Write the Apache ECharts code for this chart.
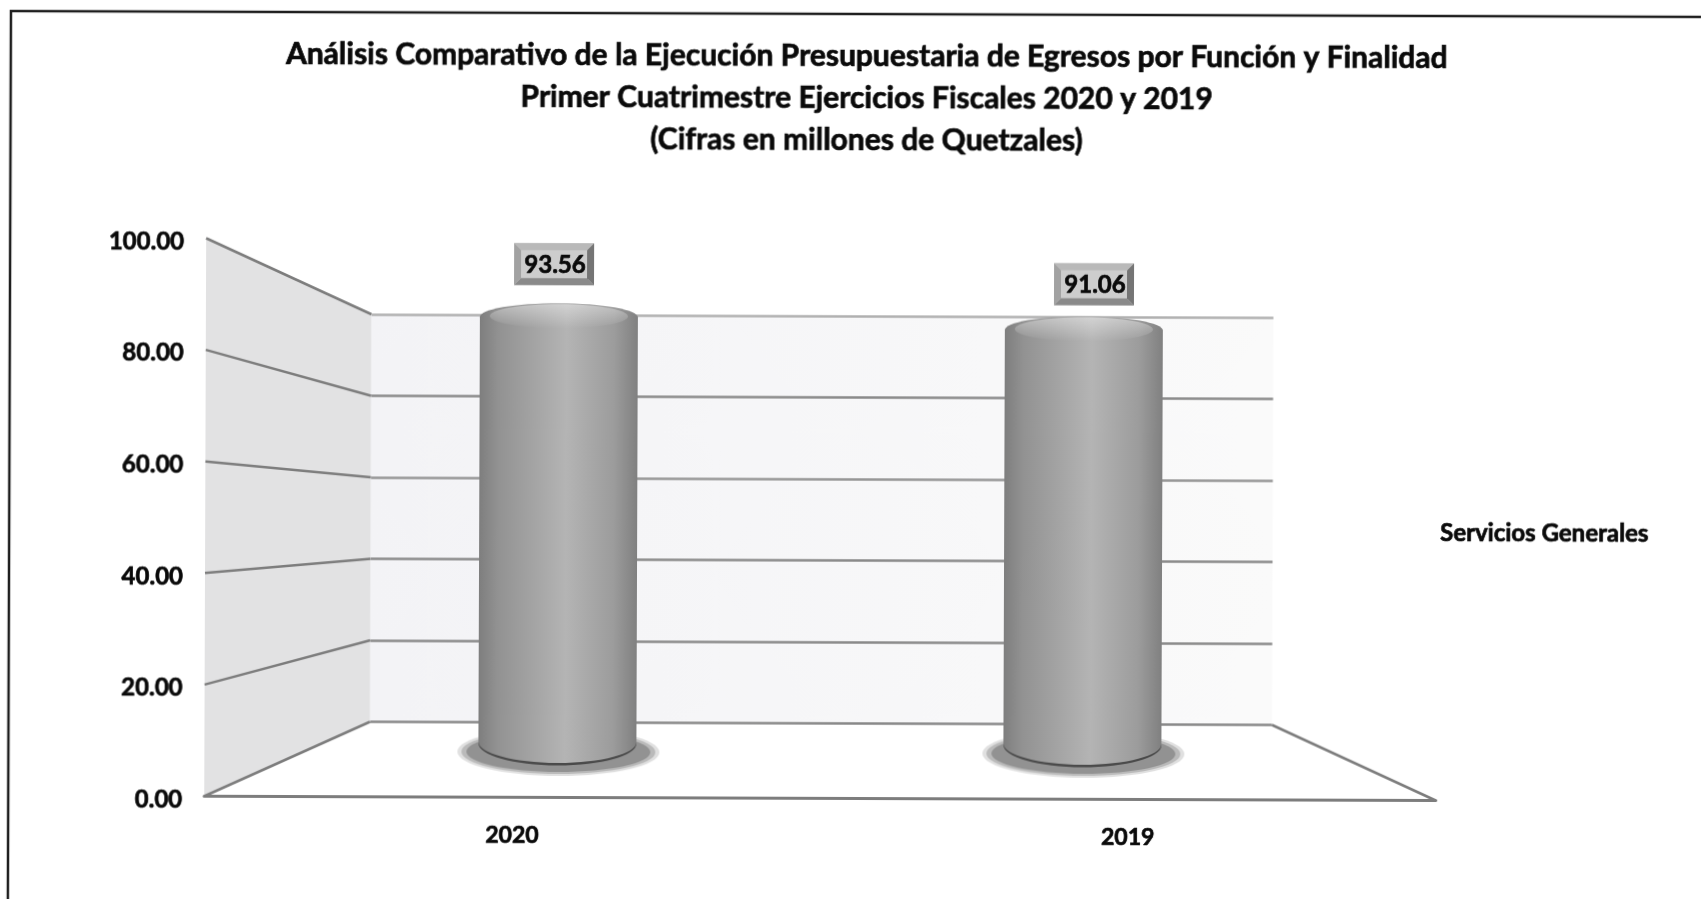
<!DOCTYPE html>
<html>
<head>
<meta charset="utf-8">
<title>Ejecución Presupuestaria</title>
<style>
html, body { margin: 0; padding: 0; background: #fff; overflow: hidden; }
/* the source is a slightly crooked, slightly soft scan */
#chart { width: 1701px; height: 899px; transform: rotate(0.2deg); transform-origin: 0 0; filter: blur(0.4px); }
</style>
<script src="https://cdn.jsdelivr.net/npm/echarts@6/dist/echarts.min.js"></script>
</head>
<body>
<div id="chart"></div>
<script>
var categories = ['2020', '2019'];
var serviciosGenerales = [93.56, 91.06];
var yTicks = [0, 20, 40, 60, 80, 100];
var seriesName = 'Servicios Generales';
var titleLines = [
    'Análisis Comparativo de la Ejecución Presupuestaria de Egresos por Función y Finalidad',
    'Primer Cuatrimestre Ejercicios Fiscales 2020 y 2019',
    '(Cifras en millones de Quetzales)'
];

var myChart = echarts.init(document.getElementById('chart'));
var font = 'Lato';
var ink = '#0a0a0a';

// front plane, back wall and the plane the cylinders stand in
var frontLeft = 207, frontRight = 1438.5;
var backLeft = 372.5, backRight = 1274.5;
var lineColor = '#7d7d7d';

// label box position relative to the top of each cylinder
var labelShift = [[-5, -53], [10, -46]];

function frontY(v) { return myChart.convertToPixel({ yAxisIndex: 0 }, v); }
function backY(v) { return myChart.convertToPixel({ yAxisIndex: 1 }, v); }

function renderWall() {
    return {
        type: 'group',
        children: [{
            type: 'polygon',
            shape: { points: [[frontLeft, frontY(100)], [backLeft, backY(100)], [backLeft, backY(0)], [frontLeft, frontY(0)]] },
            style: { fill: '#e2e2e3' }
        }, {
            type: 'line',
            shape: { x1: backRight, y1: backY(0), x2: frontRight, y2: frontY(0) },
            style: { stroke: lineColor, lineWidth: 2.5 }
        }]
    };
}

function renderWallLine(params, api) {
    var v = api.value(0);
    return {
        type: 'line',
        shape: { x1: frontLeft, y1: frontY(v), x2: backLeft, y2: backY(v) },
        style: { stroke: lineColor, lineWidth: 2.5 }
    };
}

function renderCylinder(params, api) {
    var top = api.coord([api.value(0), api.value(1)]);
    var base = api.coord([api.value(0), 0]);
    var x = top[0], w = 158, rx = w / 2;
    var shift = labelShift[params.dataIndex];
    var boxW = 80, boxH = 42, bevel = 7;
    var bx = x + shift[0] - boxW / 2, by = top[1] + shift[1] - boxH / 2;
    var side = new echarts.graphic.LinearGradient(0, 0, 1, 0, [
        { offset: 0, color: '#7e7e7e' },
        { offset: 0.12, color: '#929292' },
        { offset: 0.55, color: '#b4b4b4' },
        { offset: 0.85, color: '#9c9c9c' },
        { offset: 1, color: '#808080' }
    ]);
    return {
        type: 'group',
        children: [
            // soft floor shadow, stacked rings
            { type: 'ellipse', shape: { cx: x + 1, cy: base[1] + 10, rx: rx + 22, ry: 24 }, style: { fill: 'rgba(130,130,130,0.25)' } },
            { type: 'ellipse', shape: { cx: x + 1, cy: base[1] + 10, rx: rx + 18, ry: 22 }, style: { fill: 'rgba(130,130,130,0.4)' } },
            { type: 'ellipse', shape: { cx: x + 1, cy: base[1] + 10, rx: rx + 13, ry: 20 }, style: { fill: 'rgba(120,120,120,0.6)' } },
            {
                type: 'ellipse',
                shape: { cx: x, cy: base[1] + 1.5, rx: rx, ry: 22 },
                style: { fill: '#4a4a4a' }
            }, {
                type: 'ellipse',
                shape: { cx: x, cy: base[1], rx: rx, ry: 21 },
                style: { fill: side }
            }, {
                type: 'rect',
                shape: { x: x - rx, y: top[1], width: w, height: base[1] - top[1] },
                style: { fill: side }
            }, {
                type: 'ellipse',
                shape: { cx: x, cy: top[1], rx: rx, ry: 14 },
                style: { fill: side }
            }, {
                type: 'ellipse',
                shape: { cx: x, cy: top[1] - 1, rx: rx - 10, ry: 12 },
                style: {
                    fill: new echarts.graphic.LinearGradient(0, 0, 0, 1, [
                        { offset: 0, color: 'rgba(255,255,255,0.4)' },
                        { offset: 1, color: 'rgba(255,255,255,0)' }
                    ])
                }
            }, {
                type: 'rect',
                shape: { x: bx, y: by, width: boxW, height: boxH },
                style: { fill: '#cdcdcd' }
            }, {
                type: 'polygon',
                shape: { points: [[bx, by], [bx + boxW, by], [bx + boxW - bevel, by + bevel], [bx + bevel, by + bevel]] },
                style: { fill: '#b9b9b9' }
            }, {
                type: 'polygon',
                shape: { points: [[bx + boxW, by], [bx + boxW, by + boxH], [bx + boxW - bevel, by + boxH - bevel], [bx + boxW - bevel, by + bevel]] },
                style: { fill: '#757575' }
            }, {
                type: 'polygon',
                shape: { points: [[bx, by + boxH], [bx + boxW, by + boxH], [bx + boxW - bevel, by + boxH - bevel], [bx + bevel, by + boxH - bevel]] },
                style: { fill: '#8a8a8a' }
            }, {
                type: 'polygon',
                shape: { points: [[bx, by], [bx, by + boxH], [bx + bevel, by + boxH - bevel], [bx + bevel, by + bevel]] },
                style: { fill: '#a2a2a2' }
            }, {
                type: 'text',
                style: {
                    x: bx + boxW / 2 + 1,
                    y: by + boxH / 2 + 1,
                    text: String(api.value(1).toFixed(2)),
                    fill: ink,
                    stroke: ink,
                    lineWidth: 0.7,
                    font: 'bold 24px ' + font,
                    align: 'center',
                    verticalAlign: 'middle'
                }
            }
        ]
    };
}

var boldText = { color: ink, fontFamily: font, fontWeight: 'bold', textBorderColor: ink, textBorderWidth: 0.7 };

var option = {
    backgroundColor: '#fff',
    animation: false,
    title: {
        text: titleLines.join('\n'),
        left: 862,
        textAlign: 'center',
        top: 27,
        textStyle: Object.assign({}, boldText, { fontSize: 30, lineHeight: 42 })
    },
    legend: {
        data: [seriesName],
        icon: 'none',
        itemWidth: 0,
        itemGap: 0,
        selectedMode: false,
        left: 1432,
        top: 511,
        textStyle: Object.assign({}, boldText, { fontSize: 24 })
    },
    graphic: [{
        type: 'polyline',
        silent: true,
        shape: { points: [[1730, 11], [11, 11], [11, 930]] },
        style: { fill: null, stroke: '#1e1e1e', lineWidth: 2.5 }
    }],
    grid: [
        { left: frontLeft, right: 1701 - frontRight, top: 237.5, bottom: 899 - 795.5 },
        {
            left: backLeft, right: 1701 - backRight, top: 313, bottom: 899 - 720.5,
            show: true, borderWidth: 0,
            backgroundColor: new echarts.graphic.LinearGradient(0, 0, 1, 0, [
                { offset: 0, color: '#f3f3f6' },
                { offset: 1, color: '#fafafa' }
            ])
        },
        { left: 297.5, right: 1701 - 1347.5, top: 286, bottom: 899 - 740 }
    ],
    xAxis: [
        {
            gridIndex: 0, type: 'category', data: categories,
            axisTick: { show: false },
            axisLine: { lineStyle: { color: lineColor, width: 3 } },
            axisLabel: Object.assign({}, boldText, { fontSize: 23, margin: 27 }),
            z: 3
        },
        { gridIndex: 1, type: 'category', data: categories, show: false },
        { gridIndex: 2, type: 'category', data: categories, show: false }
    ],
    yAxis: [
        {
            gridIndex: 0, type: 'value', min: 0, max: 100, interval: 20,
            axisLine: { show: false }, axisTick: { show: false }, splitLine: { show: false },
            axisLabel: {
                margin: 22,
                formatter: function (v) { return '{t|' + v.toFixed(2) + '}'; },
                rich: { t: Object.assign({}, boldText, { fontSize: 24, padding: [7, 0, 0, 0] }) }
            }
        },
        {
            gridIndex: 1, type: 'value', min: 0, max: 100, interval: 20,
            axisLine: { show: false }, axisTick: { show: false }, axisLabel: { show: false },
            splitLine: {
                show: true,
                lineStyle: { width: 2.5, color: ['#888888', '#8a8a8a', '#8a8a8a', '#969696', '#8a8a8a', '#b0b0b0'] }
            }
        },
        { gridIndex: 2, type: 'value', min: 0, max: 100, interval: 20, show: false }
    ],
    series: [
        {
            name: 'pared', type: 'custom', xAxisIndex: 0, yAxisIndex: 0, z: 1, silent: true,
            renderItem: renderWall, data: [0], encode: { y: 0 }
        },
        {
            name: 'lineas', type: 'custom', xAxisIndex: 0, yAxisIndex: 0, z: 2, silent: true,
            renderItem: renderWallLine, data: yTicks, encode: { y: 0 }
        },
        {
            name: seriesName, type: 'custom', xAxisIndex: 2, yAxisIndex: 2, z: 5, silent: true,
            renderItem: renderCylinder,
            data: categories.map(function (c, i) { return [c, serviciosGenerales[i]]; }),
            encode: { x: 0, y: 1 }
        }
    ]
};

myChart.setOption(option);
</script>
</body>
</html>
